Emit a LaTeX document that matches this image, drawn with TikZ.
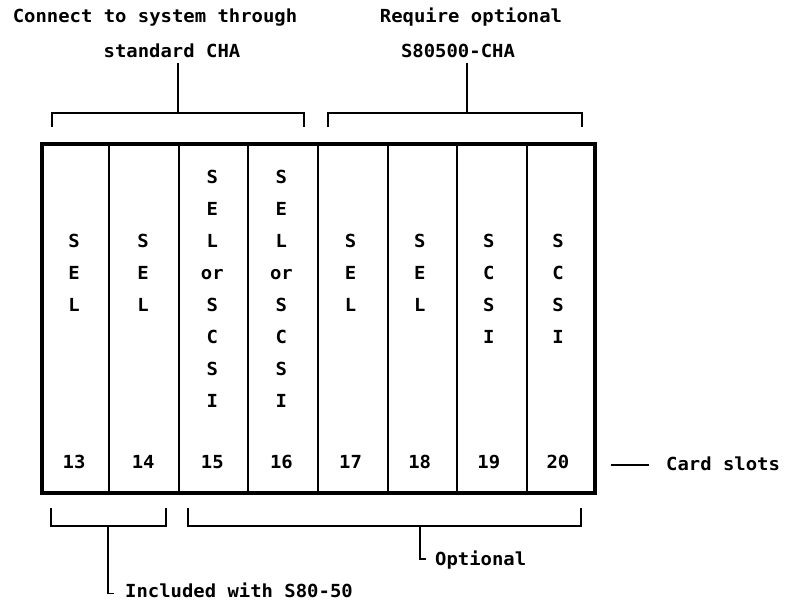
\documentclass[tikz,border=0pt]{standalone}
\usepackage{fontspec}
\usetikzlibrary{calc}
\newfontfamily\dmono[FakeStretch=1.05]{DejaVu Sans Mono Bold}
\begin{document}
\begin{tikzpicture}[x=1pt,y=-1pt,
  lbl/.style={font=\dmono\fontsize{18}{20}\selectfont, inner sep=0pt, anchor=base},
  lblw/.style={lbl, anchor=base west},
  frame/.style={draw, line width=4pt, minimum width=553pt, minimum height=349pt, inner sep=0pt, anchor=north west},
  divider/.style={line width=1.8pt},
  brk/.style={line width=1.5pt}]
\useasboundingbox (0,0) rectangle (788,600);

% top labels
\node[lbl] (t1) at (155,22.7) {Connect to system through};
\node[lbl] (t2) at (172,57) {standard CHA};
\node[lbl] (t3) at (471,22.7) {Require optional};
\node[lbl] (t4) at (458,57) {S80500-CHA};

% card cage
\node[frame] (box) at (39.5,142) {};
\foreach \k in {1,...,7}
  \draw[divider] ($(box.north west)!\k/8!(box.north east)$) -- ($(box.south west)!\k/8!(box.south east)$);

% slot letters
\foreach \c in {0,1,4,5}
  \foreach \k/\ch in {2/S,3/E,4/L}
    \node[lbl] (l\c-\k) at ({39.5+69.125*(\c+0.5)},{177+32*\k+6.4}) {\ch};
\foreach \c in {2,3}
  \foreach \k/\ch in {0/S,1/E,2/L,3/or,4/S,5/C,6/S,7/I}
    \node[lbl] (l\c-\k) at ({39.5+69.125*(\c+0.5)},{177+32*\k+6.4}) {\ch};
\foreach \c in {6,7}
  \foreach \k/\ch in {2/S,3/C,4/S,5/I}
    \node[lbl] (l\c-\k) at ({39.5+69.125*(\c+0.5)},{177+32*\k+6.4}) {\ch};
\foreach \c/\n in {0/13,1/14,2/15,3/16,4/17,5/18,6/19,7/20}
  \node[lbl] (n\n) at ({39.5+69.125*(\c+0.5)},468.5) {\n};

% card slots label
\node[lblw] (cs) at (666,470) {Card slots};
\coordinate (csl) at (611,465);
\draw[brk] (csl) -- ++(38,0);
% top brackets
\coordinate (bA1) at (52,127);
\coordinate (bA2) at (304,127);
\coordinate (sA) at (178,63);
\draw[brk] (bA1) -- ++(0,-14) -| (bA2);
\draw[brk] (sA) -- ++(0,50);
\coordinate (bB1) at (328,127);
\coordinate (bB2) at (582,127);
\coordinate (sB) at (467,63);
\draw[brk] (bB1) -- ++(0,-14) -| (bB2);
\draw[brk] (sB) -- ++(0,50);

% bottom brackets
\node[lblw] (inc) at (125,597) {Included with S80-50};
\node[lblw] (opt) at (435,565) {Optional};
\coordinate (bC1) at (51,508);
\coordinate (bC2) at (166,508);
\coordinate (sC) at (108,526);
\draw[brk] (bC1) -- ++(0,18) -| (bC2);
\draw[brk] (sC) -- (sC |- 0,593.5) -- ++(5.5,0);
\coordinate (bD1) at (188,508);
\coordinate (bD2) at (581,508);
\coordinate (sD) at (420,526);
\draw[brk] (bD1) -- ++(0,18) -| (bD2);
\draw[brk] (sD) -- (sD |- 0,559) -- ++(5.5,0);
\end{tikzpicture}
\end{document}
